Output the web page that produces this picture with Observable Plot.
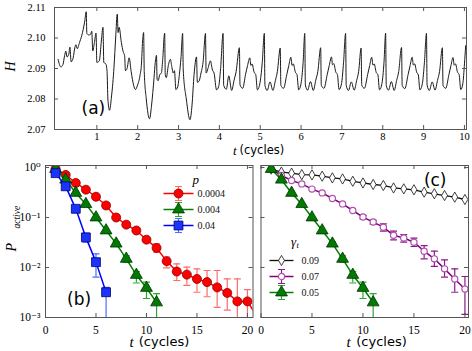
<!DOCTYPE html>
<html><head><meta charset="utf-8">
<script src="https://cdn.jsdelivr.net/npm/d3@7"></script>
<script src="https://cdn.jsdelivr.net/npm/@observablehq/plot@0.6"></script>
<style>
body{margin:0;background:#fff}
#c{position:relative;width:472px;height:351px;overflow:hidden;background:#fff}
#c > svg{position:absolute;margin:0;background:transparent;overflow:visible}
</style></head><body><div id="c"></div>
<script>
// ---------- panel (a): H vs t (cycles) ----------
const hSeries = [
[0.05,2.0930],[0.12,2.0905],[0.17,2.0913],[0.21,2.0942],[0.24,2.0957],[0.27,2.0938],[0.31,2.0945],[0.34,2.0970],
[0.37,2.0922],[0.42,2.0935],[0.46,2.0968],[0.49,2.0978],[0.52,2.0965],[0.575,2.0985],[0.63,2.1008],[0.70,2.1052],
[0.74,2.1086],[0.755,2.1015],[0.80,2.1010],[0.845,2.1012],[0.875,2.1022],[0.90,2.0958],[0.94,2.0985],[0.98,2.1016],
[1.00,2.0920],[1.06,2.0925],[1.11,2.0990],[1.15,2.1035],[1.17,2.0920],[1.22,2.0915],[1.25,2.0890],[1.27,2.0800],
[1.31,2.0763],[1.36,2.0810],[1.42,2.0905],[1.46,2.1000],[1.50,2.1078],[1.52,2.1018],[1.545,2.1035],[1.60,2.0985],
[1.645,2.0955],[1.68,2.0942],[1.70,2.0893],[1.74,2.0900],[1.79,2.0935],[1.84,2.0890],[1.90,2.0845],[1.945,2.0831],
[1.99,2.0843],[2.06,2.0880],[2.09,2.0910],[2.12,2.0990],[2.145,2.1018],[2.16,2.0890],[2.21,2.0800],[2.29,2.0735],
[2.34,2.0780],[2.40,2.0870],[2.43,2.0920],[2.46,2.0943],[2.475,2.0865],[2.50,2.0860],[2.54,2.0880],[2.58,2.0885],
[2.61,2.0925],[2.66,2.1016],[2.675,2.0880],[2.70,2.0870],[2.75,2.0910],[2.80,2.0930],[2.83,2.0910],[2.87,2.0885],
[2.90,2.0893],[2.935,2.0831],[2.98,2.0840],[3.02,2.0880],[3.06,2.0935],[3.10,2.1015],[3.115,2.0895],[3.19,2.0800],
[3.28,2.0732],[3.33,2.0780],[3.38,2.0880],[3.44,2.0938],[3.46,2.0855],[3.50,2.0858],[3.55,2.0885],[3.60,2.0920],
[3.66,2.1015],[3.675,2.0885],[3.72,2.0900],[3.78,2.0925],[3.83,2.0895],[3.87,2.0885],[3.93,2.0830],[3.98,2.0840],
[4.03,2.0900],[4.09,2.1015],
[4.105,2.0845],[4.17,2.0832],[4.23,2.0876],[4.30,2.0828],[4.36,2.0862],[4.41,2.0890],[4.49,2.0968],[4.505,2.0846],
[4.57,2.0835],[4.64,2.0880],[4.69,2.0910],[4.745,2.0935],[4.77,2.0910],[4.80,2.0915],[4.85,2.0888],[4.89,2.0880],
[4.93,2.0830],[4.99,2.0850],[5.05,2.0920],[5.10,2.1015],
[5.115,2.0845],[5.17,2.0828],[5.24,2.0856],[5.31,2.0828],[5.37,2.0860],[5.42,2.0890],[5.49,2.0967],[5.505,2.0845],
[5.57,2.0835],[5.65,2.0880],[5.70,2.0910],[5.75,2.0937],[5.78,2.0910],[5.81,2.0915],[5.86,2.0888],[5.90,2.0880],
[5.94,2.0830],[6.00,2.0852],[6.05,2.0920],[6.09,2.1015],
[6.105,2.0846],[6.16,2.0829],[6.23,2.0857],[6.30,2.0828],[6.36,2.0862],[6.41,2.0890],[6.48,2.0968],[6.495,2.0845],
[6.56,2.0835],[6.64,2.0880],[6.69,2.0910],[6.745,2.0938],[6.77,2.0912],[6.80,2.0916],[6.85,2.0888],[6.89,2.0880],
[6.93,2.0831],[6.99,2.0850],[7.04,2.0920],[7.09,2.1015],
[7.105,2.0845],[7.16,2.0828],[7.23,2.0856],[7.30,2.0829],[7.36,2.0860],[7.41,2.0891],[7.47,2.0967],[7.485,2.0846],
[7.55,2.0835],[7.63,2.0880],[7.68,2.0910],[7.73,2.0937],[7.76,2.0911],[7.79,2.0915],[7.84,2.0887],[7.88,2.0880],
[7.92,2.0830],[7.98,2.0851],[8.03,2.0920],[8.07,2.1016],
[8.085,2.0845],[8.14,2.0829],[8.21,2.0857],[8.28,2.0828],[8.34,2.0861],[8.39,2.0890],[8.46,2.0969],[8.475,2.0845],
[8.54,2.0834],[8.62,2.0880],[8.67,2.0910],[8.72,2.0937],[8.75,2.0911],[8.78,2.0915],[8.83,2.0888],[8.87,2.0879],
[8.91,2.0830],[8.97,2.0851],[9.02,2.0920],[9.07,2.1015],
[9.085,2.0846],[9.14,2.0828],[9.21,2.0856],[9.28,2.0829],[9.34,2.0861],[9.39,2.0890],[9.46,2.0968],[9.475,2.0845],
[9.54,2.0835],[9.62,2.0880],[9.67,2.0910],[9.72,2.0936],[9.75,2.0911],[9.78,2.0915],[9.83,2.0888],[9.87,2.0880],
[9.91,2.0831],[9.96,2.0850],[10.00,2.0915],[10.03,2.0975]
];
const topXTicks = [1,2,3,4,5,6,7,8,9,10];
const topYTicks = [2.07,2.08,2.09,2.10,2.11];

// ---------- panel (b): P_active vs t for several p ----------
const pLabels = ["0.0004","0.004","0.04"];
const tRed = [1,2,3,4,5,6,7,8,9,10,11,12,13,14,15,16,17,18,19,20,21];
const vRed = [0.94,0.71,0.49,0.36,0.26,0.174,0.10,0.072,0.055,0.036,0.0246,0.0134,0.0083,0.0072,0.0059,0.0051,0.0040,0.0031,0.0021,0.0021,0.0010];
const errRed = [[10,0.032,0.040],[11,0.0203,0.0296],[12,0.0098,0.0162],[13,0.0055,0.0118],[14,0.0044,0.0102],[15,0.0032,0.0094],[16,0.0026,0.0087],[17,0.0016,0.0087],[18,0.0014,0.0059],[19,0.0005,0.0059],[20,0.0005,0.0036]];
const tGreen = [1,2,3,4,5,6,7,8,9,10,11];
const vGreen = [0.93,0.57,0.31,0.185,0.10,0.055,0.030,0.0149,0.0071,0.0039,0.0020];
const errGreen = [[7,0.027,0.033],[8,0.0128,0.0170],[9,0.0049,0.0083],[10,0.0024,0.0051],[11,0.0005,0.0030]];
const tBlue = [1,2,3,4,5,6];
const vBlue = [0.77,0.42,0.149,0.040,0.0128,0.0032];
const errBlue = [[3,0.135,0.165],[4,0.0321,0.0486],[5,0.0064,0.0187],[6,0.0005,0.0040]];

// ---------- panel (c): P_active vs t for several gamma_t ----------
const gLabels = ["0.09","0.07","0.05"];
const tBlack = [1,2,3,4,5,6,7,8,9,10,11,12,13,14,15,16,17,18,19,20];
const vBlack = [0.93,0.81,0.77,0.72,0.71,0.67,0.62,0.59,0.53,0.49,0.457,0.437,0.39,0.374,0.358,0.321,0.298,0.275,0.255,0.229];
const tPurple = [1,2,3,4,5,6,7,8,9,10,11,12,13,14,15,16,17,18,19,20];
const vPurple = [0.93,0.69,0.55,0.47,0.37,0.31,0.24,0.187,0.138,0.102,0.081,0.064,0.044,0.039,0.032,0.0212,0.0149,0.0094,0.0059,0.0037];
const errPurple = [[10,0.095,0.11],[11,0.074,0.088],[12,0.0533,0.0747],[13,0.0357,0.0533],[14,0.0321,0.0457],[15,0.0263,0.0386],[16,0.0149,0.0275],[17,0.0105,0.0212],[18,0.0064,0.0142],[19,0.0032,0.0094],[20,0.00115,0.0066]];

const bxTicks = [0,5,10,15,20];
const logTicks = [1,0.1,0.01,0.001];
const logTickLabels = ["10\u2070","10\u207B\u00B9","10\u207B\u00B2","10\u207B\u00B3"];

// ---------- helpers ----------
const SERIF = "'Liberation Serif', 'DejaVu Serif', serif";
const SANS = "'DejaVu Sans', sans-serif";
const FRAME = "#555";
const capSym = {draw(ctx){ ctx.moveTo(-3.5,0); ctx.lineTo(3.5,0); }};
const legLineB = {draw(ctx){ ctx.moveTo(-15,0); ctx.lineTo(15,0); }};
const legLineC = {draw(ctx){ ctx.moveTo(-12,0); ctx.lineTo(12,0); }};
const legErr = {draw(ctx){ ctx.moveTo(0,-7); ctx.lineTo(0,7); ctx.moveTo(-3.5,-7); ctx.lineTo(3.5,-7); ctx.moveTo(-3.5,7); ctx.lineTo(3.5,7); }};

function seriesMarks(ts, vs, errs, st) {
  const pts = ts.map((t,i)=>({t, v: vs[i]}));
  const e = (errs||[]).map(([t,lo,hi])=>({t,lo,hi}));
  const m = [];
  if (e.length) {
    m.push(Plot.ruleX(e, {x:"t", y1:"lo", y2:"hi", stroke: st.err, strokeWidth: 1.2, clip: true}));
    m.push(Plot.dot(e, {x:"t", y:"lo", symbol: capSym, fill:"none", stroke: st.err, strokeWidth: 1.2, clip: true}));
    m.push(Plot.dot(e, {x:"t", y:"hi", symbol: capSym, fill:"none", stroke: st.err, strokeWidth: 1.2, clip: true}));
  }
  m.push(Plot.line(pts, {x:"t", y:"v", stroke: st.line, strokeWidth: st.lw||1.5, clip: true}));
  m.push(Plot.dot(pts, {x:"t", y:"v", symbol: st.symbol, r: st.r, fill: st.fill, stroke: st.stroke, strokeWidth: st.sw||0.8, clip: true}));
  return m;
}
function frameTicks(xt, yt, iw, ih) {
  return [
    Plot.tickX(xt, {x: d=>d, insetTop: ih-4, stroke: FRAME}),
    Plot.tickX(xt, {x: d=>d, insetBottom: ih-4, stroke: FRAME}),
    Plot.tickY(yt, {y: d=>d, insetRight: iw-4, stroke: FRAME}),
    Plot.tickY(yt, {y: d=>d, insetLeft: iw-4, stroke: FRAME})
  ];
}
function legend(entries, labels, o) {
  const m = [];
  entries.forEach((s,i)=>{
    const dy = o.dy0 + i*o.step;
    m.push(Plot.dot([0], {frameAnchor:"top-left", dx:o.mx, dy, symbol: o.lineSym, fill:"none", stroke: s.line, strokeWidth: s.lw||1.5}));
    if (s.err) m.push(Plot.dot([0], {frameAnchor:"top-left", dx:o.mx, dy, symbol: legErr, fill:"none", stroke: s.err, strokeWidth: 1.2}));
    m.push(Plot.dot([0], {frameAnchor:"top-left", dx:o.mx, dy, symbol: s.symbol, r: s.r, fill: s.fill, stroke: s.stroke, strokeWidth: s.sw||0.8}));
    m.push(Plot.text([labels[i]], {frameAnchor:"top-left", dx:o.tx, dy, text: d=>d, textAnchor:"start", lineAnchor:"middle", fontFamily: SERIF, fontSize: 10, fill:"#111"}));
  });
  return m;
}

const stRed = {line:"#ff0000", err:"#ff6a6a", symbol:"circle", r:4.5, fill:"#ff0000", stroke:"#8b0000"};
const stGreen = {line:"#008000", err:"#2ea82e", symbol:"triangle", r:4.4, fill:"#007a00", stroke:"#003300"};
const stBlue = {line:"#0000ff", err:"#4d6dff", symbol:"square", r:5, fill:"#1a33ff", stroke:"#00006b"};
const stBlack = {line:"#111", symbol:"diamond", r:3.1, fill:"#fff", stroke:"#111", lw:1.3};
const stPurple = {line:"#800080", err:"#8a1a8a", symbol:"circle", r:3.1, fill:"#fff", stroke:"#b050b0", sw:1.2};

const root = document.getElementById("c");
function place(svg, left, top){ svg.style.left = left+"px"; svg.style.top = top+"px"; root.appendChild(svg); }

// ---------- (a) ----------
const aW = 472, aH = 160, aML = 54, aMR = 6, aMT = 7, aMB = 31;
const plotA = Plot.plot({
  width: aW, height: aH, marginLeft: aML, marginRight: aMR, marginTop: aMT, marginBottom: aMB,
  x: {domain: [-0.037, 10.05], label: null},
  y: {domain: [2.07, 2.11], label: null},
  style: {fontFamily: SERIF, fontSize: "10.5px", color: "#000", background: "transparent"},
  marks: [
    Plot.line(hSeries, {x: d=>d[0], y: d=>d[1], stroke: "#1a1a1a", strokeWidth: 1, curve: "monotone-x", clip: true}),
    Plot.frame({stroke: FRAME}),
    ...frameTicks(topXTicks, topYTicks, aW-aML-aMR, aH-aMT-aMB),
    Plot.axisX(topXTicks, {tickSize: 0, tickPadding: 3, tickFormat: d=>String(d), fontSize: 10.5}),
    Plot.axisY(topYTicks, {tickSize: 0, tickPadding: 9, tickFormat: d=>d.toFixed(2), fontSize: 10.5}),
    Plot.text(["t"], {frameAnchor:"bottom", dx:-24, dy:21, textAnchor:"end", lineAnchor:"middle", fontFamily: SERIF, fontStyle:"italic", fontSize: 13}),
    Plot.text(["(cycles)"], {frameAnchor:"bottom", dx:-21, dy:21, textAnchor:"start", lineAnchor:"middle", fontFamily: SANS, fontSize: 11.5}),
    Plot.text(["H"], {frameAnchor:"left", dx:-44, dy:3, rotate:-90, lineAnchor:"middle", fontFamily: SERIF, fontStyle:"italic", fontSize: 14}),
    Plot.text(["(a)"], {frameAnchor:"bottom-left", dx:27, dy:-21, lineAnchor:"middle", fontFamily: SANS, fontSize: 17})
  ]
});
place(plotA, 0, 0);

// ---------- (b) ----------
const bW = 260, bH = 191, bML = 45, bMR = 7.5, bMT = 5, bMB = 34;
const plotB = Plot.plot({
  width: bW, height: bH, marginLeft: bML, marginRight: bMR, marginTop: bMT, marginBottom: bMB,
  x: {domain: [0, 20.55], label: null},
  y: {type: "log", domain: [1e-3, 1.096], label: null},
  style: {fontFamily: SERIF, fontSize: "11.5px", color: "#000", background: "transparent"},
  marks: [
    ...seriesMarks(tRed, vRed, errRed, stRed),
    ...seriesMarks(tGreen, vGreen, errGreen, stGreen),
    ...seriesMarks(tBlue, vBlue, errBlue, stBlue),
    Plot.frame({stroke: FRAME}),
    ...frameTicks(bxTicks, logTicks, bW-bML-bMR, bH-bMT-bMB),
    Plot.axisX(bxTicks, {tickSize: 0, tickPadding: 8, tickFormat: d=>String(d), fontSize: 11.5}),
    Plot.axisY(logTicks, {tickSize: 0, tickPadding: 5, tickFormat: d=>logTickLabels[logTicks.indexOf(d)], fontSize: 11.5}),
    ...legend([stRed, stGreen, stBlue], pLabels, {mx:133, tx:152, dy0:28, step:16, lineSym: legLineB}),
    Plot.text(["p"], {frameAnchor:"top-left", dx:147, dy:14, lineAnchor:"middle", fontFamily: SERIF, fontStyle:"italic", fontSize: 13}),
    Plot.text(["t"], {frameAnchor:"bottom", dx:-15.5, dy:24.5, textAnchor:"end", lineAnchor:"middle", fontFamily: SERIF, fontStyle:"italic", fontSize: 15}),
    Plot.text(["(cycles)"], {frameAnchor:"bottom", dx:-10.5, dy:24.5, textAnchor:"start", lineAnchor:"middle", fontFamily: SANS, fontSize: 13}),
    Plot.text(["P"], {frameAnchor:"left", dx:-34, dy:10, rotate:-90, lineAnchor:"middle", fontFamily: SERIF, fontStyle:"italic", fontSize: 14}),
    Plot.text(["active"], {frameAnchor:"left", dx:-29, dy:-13, rotate:-90, lineAnchor:"middle", fontFamily: SERIF, fontStyle:"italic", fontSize: 9.5}),
    Plot.text(["(b)"], {frameAnchor:"bottom-left", dx:21.5, dy:-18, lineAnchor:"middle", fontFamily: SANS, fontSize: 17})
  ]
});
place(plotB, 0, 160);

// ---------- (c) ----------
const cW = 219, cH = 191, cML = 7.5, cMR = 4, cMT = 5, cMB = 34;
const plotC = Plot.plot({
  width: cW, height: cH, marginLeft: cML, marginRight: cMR, marginTop: cMT, marginBottom: cMB,
  x: {domain: [0, 20.35], label: null},
  y: {type: "log", domain: [1e-3, 1.096], label: null, axis: null},
  style: {fontFamily: SERIF, fontSize: "11.5px", color: "#000", background: "transparent"},
  marks: [
    ...seriesMarks(tBlack, vBlack, null, stBlack),
    ...seriesMarks(tPurple, vPurple, errPurple, stPurple),
    ...seriesMarks(tGreen, vGreen, errGreen, stGreen),
    Plot.frame({stroke: FRAME}),
    ...frameTicks(bxTicks, logTicks, cW-cML-cMR, cH-cMT-cMB),
    Plot.axisX(bxTicks, {tickSize: 0, tickPadding: 8, tickFormat: d=>String(d), fontSize: 11.5}),
    ...legend([stBlack, stPurple, stGreen], gLabels, {mx:20.5, tx:40.5, dy0:95, step:16, lineSym: legLineC}),
    Plot.text(["\u03B3"], {frameAnchor:"top-left", dx:30, dy:76, lineAnchor:"middle", fontFamily: SERIF, fontStyle:"italic", fontSize: 13}),
    Plot.text(["t"], {frameAnchor:"top-left", dx:35.5, dy:80, lineAnchor:"middle", fontFamily: SERIF, fontStyle:"italic", fontSize: 8.5}),
    Plot.text(["t"], {frameAnchor:"bottom", dx:-14, dy:24.5, textAnchor:"end", lineAnchor:"middle", fontFamily: SERIF, fontStyle:"italic", fontSize: 15}),
    Plot.text(["(cycles)"], {frameAnchor:"bottom", dx:-8.5, dy:24.5, textAnchor:"start", lineAnchor:"middle", fontFamily: SANS, fontSize: 13}),
    Plot.text(["(c)"], {frameAnchor:"top-right", dx:-22, dy:15, lineAnchor:"middle", fontFamily: SANS, fontSize: 17})
  ]
});
place(plotC, 253, 160);
</script></body></html>
